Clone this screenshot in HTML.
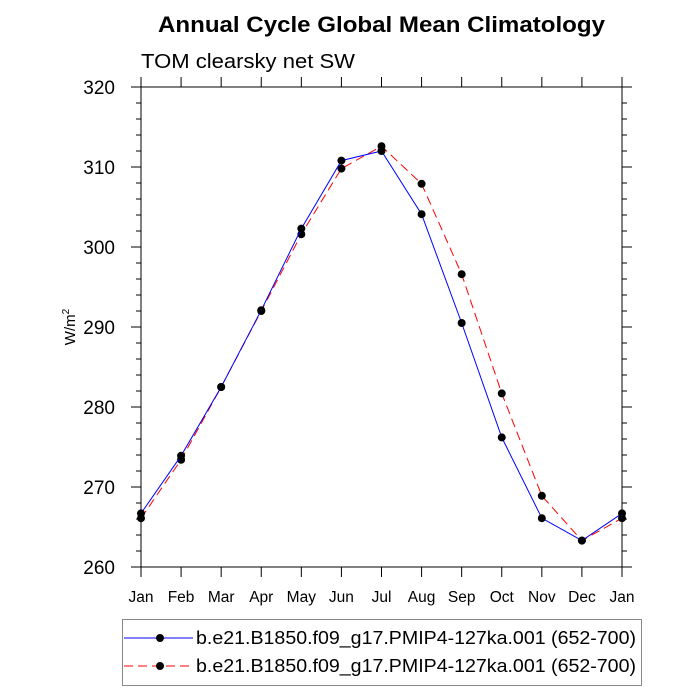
<!DOCTYPE html>
<html><head><meta charset="utf-8"><style>
html,body{margin:0;padding:0;background:#fff;}
svg{display:block;font-family:"Liberation Sans",sans-serif;}
</style></head><body>
<svg id="chart" width="700" height="700" viewBox="0 0 700 700" xmlns="http://www.w3.org/2000/svg">
<text x="158" y="32" font-size="22" font-weight="bold" textLength="447" lengthAdjust="spacingAndGlyphs">Annual Cycle Global Mean Climatology</text>
<text x="141" y="68" font-size="20" textLength="214" lengthAdjust="spacingAndGlyphs">TOM clearsky net SW</text>
<text transform="translate(75,327) rotate(-90)" text-anchor="middle" font-size="15">W/m<tspan font-size="10" dy="-6">2</tspan></text>
<g id="axes"></g>
<g id="series"></g>
<g>
<rect x="122.5" y="619.5" width="519" height="66" fill="none" stroke="#888" stroke-width="1"/>
<g>
<line x1="124" y1="638" x2="193" y2="638" stroke="#0000ff" stroke-width="1"/>
<circle cx="160" cy="638" r="4" fill="#000"/>
<text x="196" y="644" font-size="18" textLength="440" lengthAdjust="spacingAndGlyphs">b.e21.B1850.f09_g17.PMIP4-127ka.001 (652-700)</text>
</g>
<g>
<line x1="124" y1="666" x2="193" y2="666" stroke="#ff0000" stroke-width="1" stroke-dasharray="9,5"/>
<circle cx="160" cy="666" r="4" fill="#000"/>
<text x="196" y="672" font-size="18" textLength="440" lengthAdjust="spacingAndGlyphs">b.e21.B1850.f09_g17.PMIP4-127ka.001 (652-700)</text>
</g>
</g>
</svg>
<script>
const months = ["Jan","Feb","Mar","Apr","May","Jun","Jul","Aug","Sep","Oct","Nov","Dec","Jan"];
const seriesA = [266.7,273.9,282.5,292.1,302.3,310.8,312.0,304.1,290.5,276.2,266.1,263.3,266.7];
const seriesB = [266.1,273.4,282.5,292.0,301.6,309.8,312.6,307.9,296.6,281.7,268.9,263.3,266.1];
const yTicks = [260,270,280,290,300,310,320];

const X0=141, X1=622, Y0=567, Y1=87, YMIN=260, YMAX=320;
function xs(i){return X0+(X1-X0)*i/(months.length-1);}
function ys(v){return Y0-(v-YMIN)/(YMAX-YMIN)*(Y0-Y1);}
const NS="http://www.w3.org/2000/svg";
function mk(tag,attrs,parent){const e=document.createElementNS(NS,tag);for(const k in attrs)e.setAttribute(k,attrs[k]);parent.appendChild(e);return e;}
const axes=document.getElementById('axes');
const frame=mk('rect',{x:X0,y:Y1,width:X1-X0,height:Y0-Y1,fill:'none',stroke:'#000','stroke-width':1},axes);


for(let k=0;k<yTicks.length;k++){
  const v=yTicks[k], y=ys(v);
  mk('line',{x1:X0-10,y1:y,x2:X0,y2:y,stroke:'#000'},axes);
  mk('line',{x1:X1,y1:y,x2:X1+10,y2:y,stroke:'#000'},axes);
  const t=mk('text',{x:X0-26,y:y+7,'text-anchor':'end','font-size':19},axes);
  t.textContent=v;
  
  
  if(k<yTicks.length-1){
    for(let m=1;m<5;m++){
      const ym=ys(v+(yTicks[k+1]-v)*m/5);
      mk('line',{x1:X0-5,y1:ym,x2:X0,y2:ym,stroke:'#000'},axes);
      mk('line',{x1:X1,y1:ym,x2:X1+5,y2:ym,stroke:'#000'},axes);
    }
  }
}
for(let i=0;i<months.length;i++){
  const x=xs(i);
  mk('line',{x1:x,y1:Y0,x2:x,y2:Y0+10,stroke:'#000'},axes);
  mk('line',{x1:x,y1:Y1-10,x2:x,y2:Y1,stroke:'#000'},axes);
  const t=mk('text',{x:x,y:Y0+35,'text-anchor':'middle','font-size':15.5},axes);
  t.textContent=months[i];
  
  
}
const ser=document.getElementById('series');
function draw(vals,color,dash,name){
  const g=mk('g',{},ser);
  
  
  const pts=vals.map((v,i)=>xs(i)+','+ys(v)).join(' ');
  const pl=mk('polyline',{points:pts,fill:'none',stroke:color,'stroke-width':1,'stroke-dasharray':dash},g);
  
  
  vals.forEach((v,i)=>{
    const c=mk('circle',{cx:xs(i),cy:ys(v),r:4,fill:'#000'},g);
    
    
  });
}
draw(seriesB,'#ff0000','9,5','series-red');
draw(seriesA,'#0000ff','none','series-blue');
</script>
</body></html>
